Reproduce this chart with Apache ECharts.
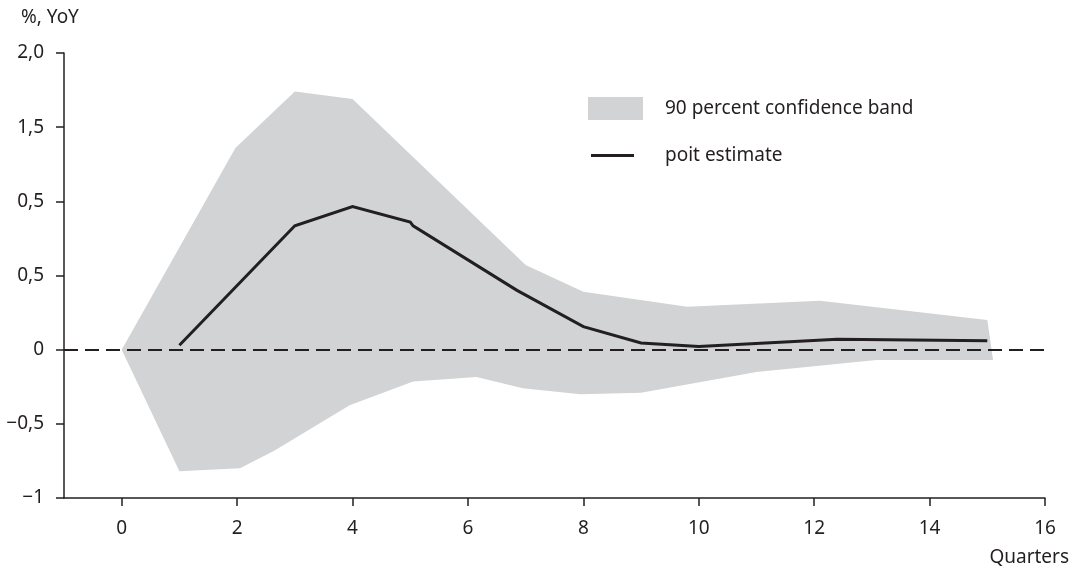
<!DOCTYPE html>
<html>
<head>
<meta charset="utf-8">
<title>Impulse response</title>
<script src="https://cdn.jsdelivr.net/npm/echarts@6/dist/echarts.min.js"></script>
<style>
  html, body { margin: 0; padding: 0; background: #ffffff; }
  #chart { width: 1074px; height: 574px; }
</style>
</head>
<body>
<div id="chart"></div>
<script>
// Quarter ticks on the horizontal axis
const quarterTicks = [0, 2, 4, 6, 8, 10, 12, 14, 16];

// Vertical axis tick labels, bottom to top (-1 .. 2 in steps of 0.5)
const yTickLabels = ['\u22121', '\u22120,5', '0', '0,5', '0,5', '1,5', '2,0'];

// Point estimate: [quarter, % YoY]
const estimate = [
  [1, 0.03], [3, 0.835], [4, 0.965], [5, 0.86], [5.05, 0.835],
  [6.85, 0.40], [8, 0.155], [9, 0.045], [10, 0.022], [12.4, 0.07], [15, 0.06]
];

// 90 percent confidence band: upper edge and lower edge
const bandUpper = [
  [0, 0], [1.97, 1.36], [3, 1.74], [4, 1.69], [7, 0.57], [8, 0.39],
  [9.8, 0.29], [12.1, 0.33], [15, 0.2], [15.1, -0.07]
];
const bandLower = [
  [0, 0], [1, -0.82], [2.05, -0.80], [2.65, -0.68], [3.95, -0.375],
  [5.05, -0.215], [6.15, -0.185], [6.95, -0.26], [7.95, -0.30], [9, -0.29],
  [11, -0.15], [13.08, -0.07], [15.1, -0.07]
];

const INK = '#231f20';
const BAND = '#d1d3d4';
const FONT = '"Noto Sans", "Open Sans", sans-serif';
const FS = 19;

const Y_MIN = -1, Y_MAX = 2, Y_STEP = 0.5;

const chart = echarts.init(document.getElementById('chart'), null, { renderer: 'canvas' });

chart.setOption({
  animation: false,
  backgroundColor: '#ffffff',
  textStyle: { fontFamily: FONT, color: INK },
  title: [
    {
      text: '%, YoY', left: 21, top: 8, padding: 0,
      textStyle: { fontFamily: FONT, fontSize: FS, fontWeight: 'normal', color: INK }
    },
    {
      text: 'Quarters', right: 5, top: 548, padding: 0,
      textStyle: { fontFamily: FONT, fontSize: FS, fontWeight: 'normal', color: INK }
    }
  ],
  legend: [
    {
      data: ['90 percent confidence band'],
      left: 588, top: 97, padding: 0,
      itemWidth: 55, itemHeight: 23, icon: 'rect',
      selectedMode: false,
      textStyle: { fontFamily: FONT, fontSize: FS, color: INK, padding: [0, 0, 0, 17] }
    },
    {
      data: ['poit estimate'],
      left: 591, top: 146, padding: 0,
      itemWidth: 43, itemHeight: 3, icon: 'rect',
      selectedMode: false,
      textStyle: { fontFamily: FONT, fontSize: FS, color: INK, padding: [0, 0, 0, 26] }
    }
  ],
  grid: {
    left: 64, right: 29, top: 53, bottom: 76,
    containLabel: false, outerBoundsMode: 'none'
  },
  xAxis: {
    type: 'value',
    min: -1, max: 16,
    splitLine: { show: false },
    axisLine: { show: true, onZero: false, lineStyle: { color: INK, width: 1.5 } },
    axisTick: { show: true, length: 8, customValues: quarterTicks, lineStyle: { color: INK, width: 1.5 } },
    axisLabel: {
      customValues: quarterTicks, margin: 21,
      fontFamily: FONT, fontSize: FS, color: INK
    }
  },
  yAxis: {
    type: 'value',
    min: Y_MIN, max: Y_MAX, interval: Y_STEP,
    splitLine: { show: false },
    axisLine: { show: true, onZero: false, lineStyle: { color: INK, width: 1.5 } },
    axisTick: { show: true, length: 8, lineStyle: { color: INK, width: 1.5 } },
    axisLabel: {
      margin: 20, fontFamily: FONT, fontSize: FS, color: INK,
      formatter: function (v) {
        return yTickLabels[Math.round((v - Y_MIN) / Y_STEP)];
      }
    }
  },
  series: [
    {
      name: '90 percent confidence band',
      type: 'custom',
      data: bandUpper,
      itemStyle: { color: BAND },
      silent: true,
      z: 1,
      renderItem: function (params, api) {
        if (params.dataIndex !== 0) return null;
        const pts = bandUpper.map(function (p) { return api.coord(p); })
          .concat(bandLower.slice().reverse().map(function (p) { return api.coord(p); }));
        return {
          type: 'polygon',
          shape: { points: pts },
          style: { fill: BAND, stroke: null }
        };
      }
    },
    {
      name: 'poit estimate',
      type: 'line',
      data: estimate,
      symbol: 'none',
      showSymbol: false,
      z: 3,
      itemStyle: { color: INK },
      lineStyle: { color: INK, width: 3, join: 'miter' },
      markLine: {
        silent: true,
        symbol: 'none',
        z: 2,
        label: { show: false },
        lineStyle: { color: INK, width: 1.9, type: [14, 7] },
        data: [{ yAxis: 0 }]
      }
    }
  ]
});
</script>
</body>
</html>
